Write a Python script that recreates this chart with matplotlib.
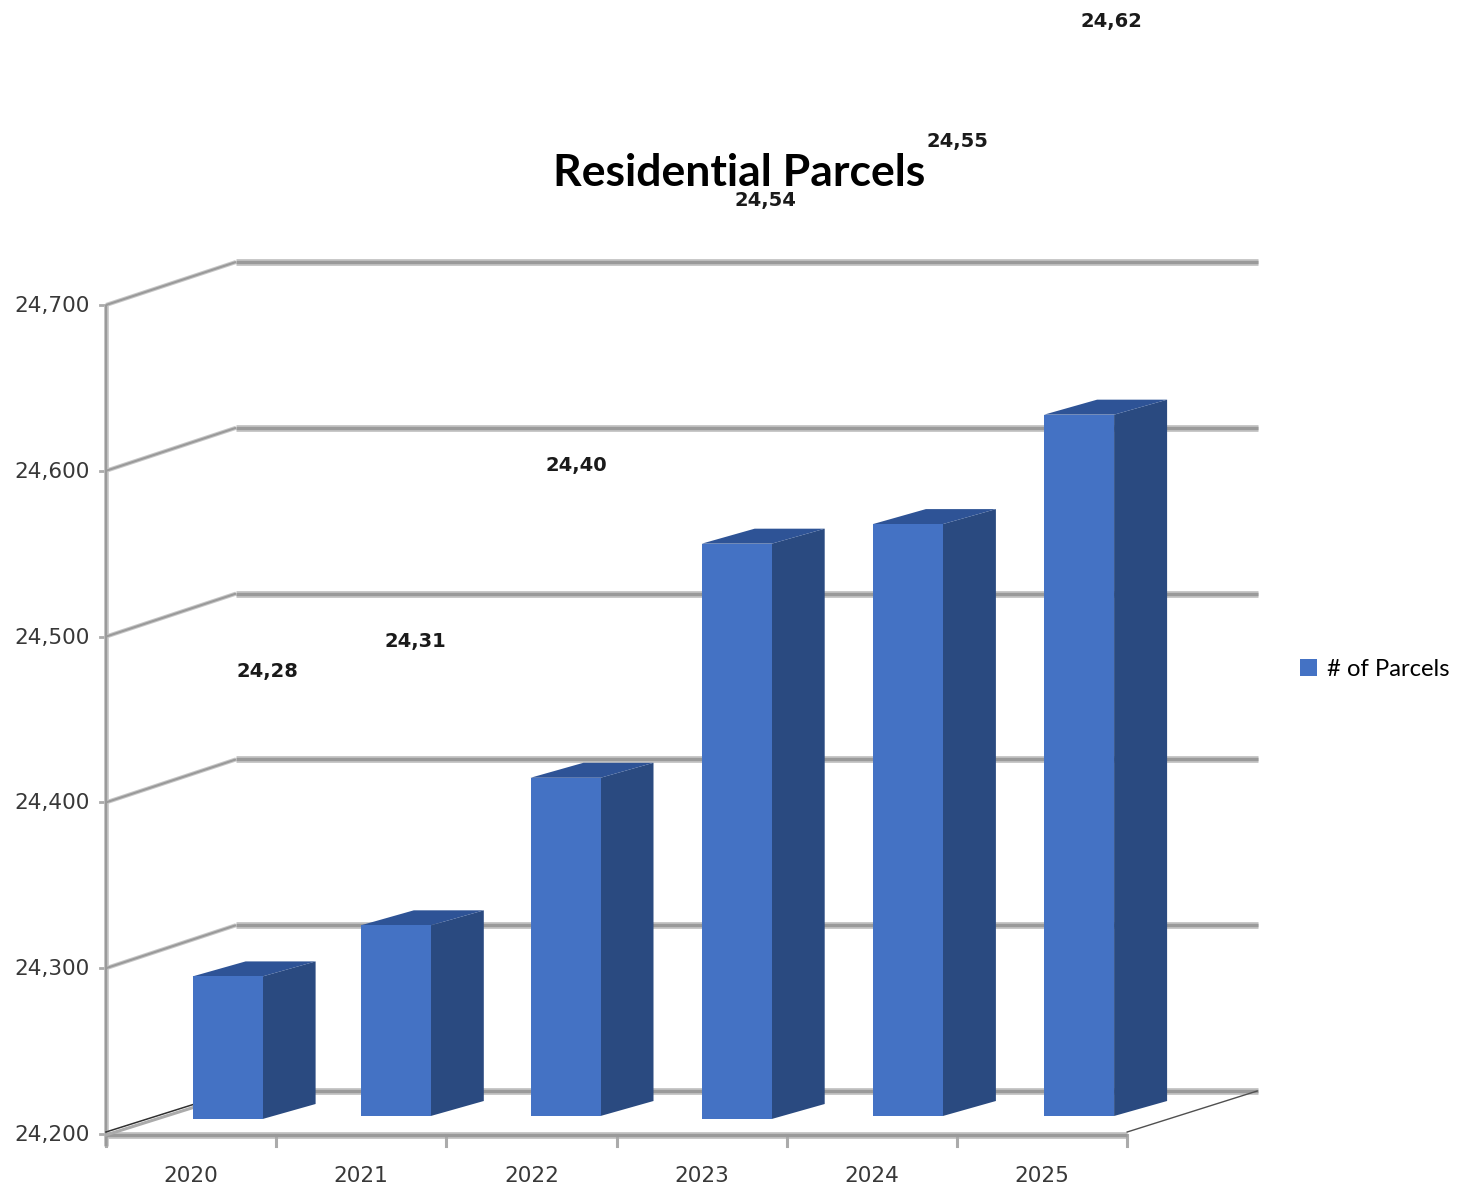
"""Residential parcel counts per year, drawn as a pseudo-3D column chart."""

import matplotlib

matplotlib.use("Agg")
import matplotlib.pyplot as plt
from matplotlib.patches import Patch, Polygon

YEARS = ["2020", "2021", "2022", "2023", "2024", "2025"]
PARCELS = [24286, 24315, 24404, 24547, 24557, 24623]
Y_TICKS = [24200, 24300, 24400, 24500, 24600, 24700]

WIDTH_PX, HEIGHT_PX = 1459, 1190
SLOT_PX = 170.2  # width of one category along the floor
UNIT_PX = 1.658  # pixels per parcel on the value axis
LEFT_PX, BASE_PX = 106, 1134

FRONT = "#4472C4"
SIDE = "#2A4A80"
TOP = "#2E5396"
GRID = "#ABABAB"
GRID_CORE = "#9A9A9A"
TEXT = "#383838"


def dx(px):
    return px / SLOT_PX


def dy(px):
    return px / UNIT_PX


# Depth of the chart box and of each column, in pixels
WALL_X, WALL_Y = dx(130), dy(43)
WALL_END = dx(1258 - LEFT_PX) - 0.5
BAR_SHIFT, BAR_W = dx(36), dx(70)
BAR_DX, BAR_DY = dx(53), dy(15)
BAR_LIFT = [dy(15), dy(18), dy(18), dy(15), dy(18), dy(18)]
BAR_NUDGE = [dx(0.5), dx(-1.5), dx(-2), dx(-1), dx(0), dx(1)]

# Data labels sit where the source chart left them, clear of their columns
LABEL_X = [267, 415, 576, 765, 957, 1111]
LABEL_Y = [672, 642, 466, 200, 141, 21]


def soft_line(ax, xs, ys, width):
    """Draws a grey rule with a slightly darker core."""
    ax.plot(xs, ys, color="#C8C8C8", lw=width, zorder=1, solid_capstyle="butt")
    ax.plot(xs, ys, color=GRID_CORE, lw=width * 0.5, zorder=1.1, solid_capstyle="butt")


def draw_frame(ax):
    x0 = -0.5
    x1 = len(YEARS) - 0.5
    base = Y_TICKS[0]
    for tick in Y_TICKS:
        wall_y = tick + WALL_Y
        soft_line(ax, [x0 + WALL_X, WALL_END], [wall_y, wall_y], 5.0)
        if tick != base:
            soft_line(ax, [x0, x0 + WALL_X], [tick, wall_y], 3.0)
        ax.plot([x0 - dx(6), x0], [tick, tick], color=GRID, lw=2, zorder=1)
        ax.text(x0 - dx(16), tick - dy(1), f"{tick:,}", ha="right", va="center",
                fontsize=15.6, color=TEXT)

    # value axis
    soft_line(ax, [x0, x0], [base - dy(12), Y_TICKS[-1]], 3.4)

    # floor: front edge, tick marks and the two receding edges
    soft_line(ax, [x0, x1], [base - dy(1), base - dy(1)], 5.0)
    for i in range(len(YEARS) + 1):
        ax.plot([x0 + i, x0 + i], [base - dy(1), base - dy(12)], color=GRID,
                lw=2.2, zorder=1)
    ax.plot([x0, x0 + WALL_X], [base + dy(2), base + WALL_Y], color="#303030",
            lw=1.1, zorder=1.2)
    ax.plot([x0, x0 + WALL_X], [base - dy(1), base + WALL_Y - dy(3)], color=GRID,
            lw=2.2, zorder=1.2)
    ax.plot([x1, x1 + WALL_X], [base + dy(2), base + WALL_Y], color="#505050",
            lw=1.0, zorder=1.2)


def draw_columns(ax):
    for i, (value, lift, nudge) in enumerate(zip(PARCELS, BAR_LIFT, BAR_NUDGE)):
        x = i + BAR_SHIFT + nudge
        left, right = x - BAR_W / 2, x + BAR_W / 2
        bottom = Y_TICKS[0] + lift
        top = value + lift
        ax.add_patch(Polygon(
            [(right, bottom), (right + BAR_DX, bottom + BAR_DY),
             (right + BAR_DX, top + BAR_DY), (right, top)],
            facecolor=SIDE, edgecolor="none", zorder=3))
        ax.add_patch(Polygon(
            [(left, top), (left + BAR_DX, top + BAR_DY),
             (right + BAR_DX, top + BAR_DY), (right, top)],
            facecolor=TOP, edgecolor="none", zorder=3))
        ax.bar(x, value - Y_TICKS[0], width=BAR_W, bottom=bottom, color=FRONT, zorder=4)


def main():
    fig = plt.figure(figsize=(WIDTH_PX / 100, HEIGHT_PX / 100), dpi=100)
    ax = fig.add_axes([0, 0, 1, 1])
    ax.set_xlim(-LEFT_PX / SLOT_PX - 0.5, (WIDTH_PX - LEFT_PX) / SLOT_PX - 0.5)
    ax.set_ylim(Y_TICKS[0] - dy(HEIGHT_PX - BASE_PX), Y_TICKS[0] + dy(BASE_PX))
    ax.set_axis_off()

    draw_frame(ax)
    draw_columns(ax)

    for i, year in enumerate(YEARS):
        ax.text(i, Y_TICKS[0] - dy(42), year, ha="center", va="center",
                fontsize=15.6, color=TEXT)

    for value, px, py in zip(PARCELS, LABEL_X, LABEL_Y):
        ax.text(px / WIDTH_PX, 1 - py / HEIGHT_PX, f"{value:,}"[:5], ha="center",
                va="center", fontsize=14, fontweight="bold", color="#1A1A1A",
                transform=ax.transAxes, zorder=6)

    fig.text(739 / WIDTH_PX, 1 - 173 / HEIGHT_PX, "Residential Parcels", ha="center",
             va="center", fontsize=32, fontweight="bold", family="Lato", color="black")

    ax.legend(handles=[Patch(facecolor=FRONT, label="# of Parcels")],
              loc="center left", bbox_to_anchor=(1300 / WIDTH_PX, 1 - 669 / HEIGHT_PX),
              frameon=False, handlelength=0.7, handleheight=0.7, handletextpad=0.45,
              borderpad=0, borderaxespad=0,
              prop={"family": "Lato", "size": 17.2})

    fig.savefig("out.png", dpi=100, facecolor="white")
    plt.close(fig)


if __name__ == "__main__":
    main()
